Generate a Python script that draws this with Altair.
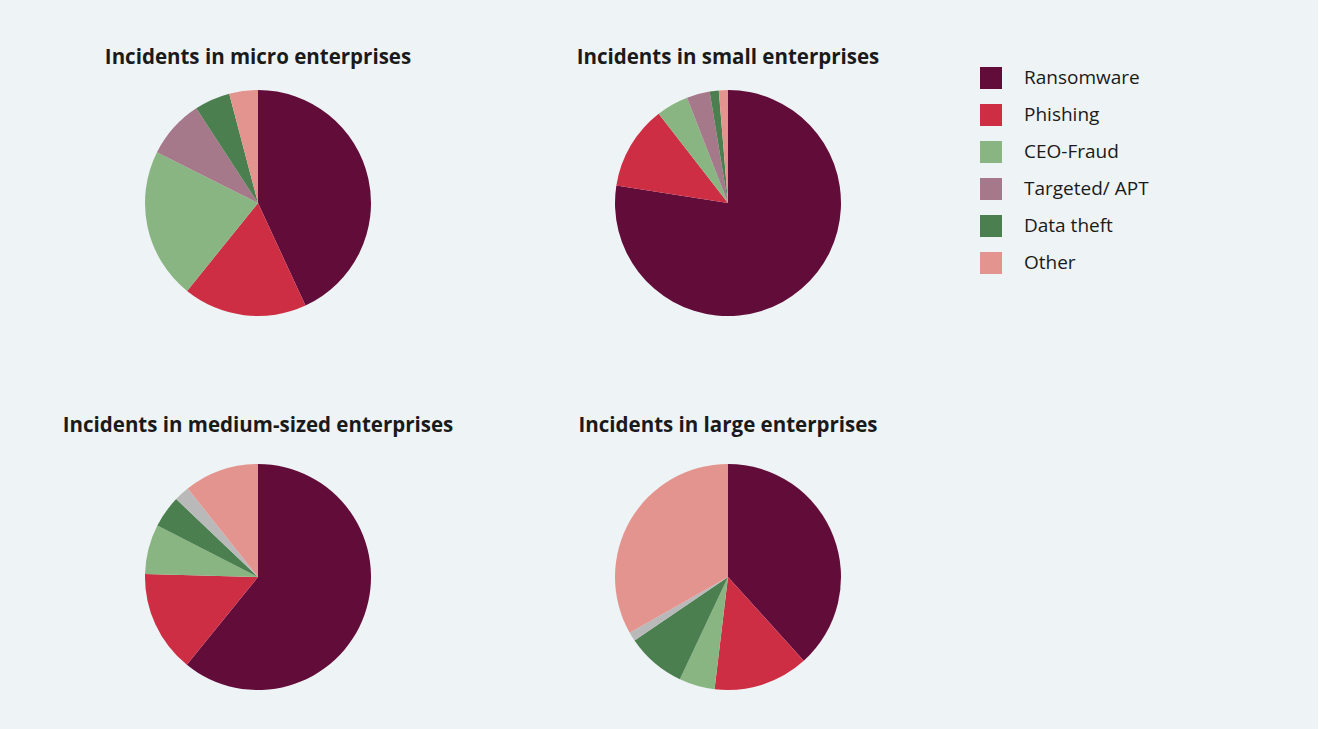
import altair as alt
import pandas as pd

categories = ["Ransomware", "Phishing", "CEO-Fraud", "Targeted/ APT", "Data theft", "Unassigned", "Other"]
legend_categories = ["Ransomware", "Phishing", "CEO-Fraud", "Targeted/ APT", "Data theft", "Other"]
colors = ["#620c3a", "#cd2e44", "#88b582", "#a5788a", "#4b7f4f", "#b9b9b9", "#e4948f"]

titles = [
    "Incidents in micro enterprises",
    "Incidents in small enterprises",
    "Incidents in medium-sized enterprises",
    "Incidents in large enterprises",
]
micro = [43.1, 17.7, 21.6, 8.4, 5.1, 0.0, 4.1]
small = [77.4, 12.0, 4.6, 3.3, 1.3, 0.0, 1.3]
medium = [60.9, 14.6, 7.1, 0.0, 4.6, 2.2, 10.7]
large = [38.3, 13.6, 5.1, 0.0, 8.5, 1.3, 33.2]

rows = []
for t, vals in zip(titles, [micro, small, medium, large]):
    for i, (c, v) in enumerate(zip(categories, vals)):
        if v > 0:
            rows.append({"panel": t, "category": c, "share": v, "order": i})
df = pd.DataFrame(rows)

FONT = "Open Sans"


def pie(t, title_offset):
    return (
        alt.Chart(df)
        .transform_filter(alt.FieldEqualPredicate(field="panel", equal=t))
        .mark_arc(radius=113, strokeWidth=0)
        .encode(
            theta=alt.Theta("share:Q", stack=True),
            color=alt.Color(
                "category:N",
                scale=alt.Scale(domain=categories, range=colors),
                legend=alt.Legend(
                    values=legend_categories,
                    title=None,
                    orient="none",
                    legendX=932,
                    legendY=-16,
                    symbolType="square",
                    symbolSize=484,
                    symbolStrokeWidth=0,
                    symbolOpacity=1,
                    labelFontSize=19,
                    labelFont=FONT,
                    labelColor="#1a1a1a",
                    labelOffset=22,
                    rowPadding=15,
                    labelLimit=300,
                ),
            ),
            order=alt.Order("order:Q"),
        )
        .properties(
            width=420,
            height=240,
            title=alt.TitleParams(
                t, fontSize=20.5, font=FONT, fontWeight="bold", color="#1a1a1a",
                anchor="middle", offset=title_offset,
            ),
        )
    )


top = alt.hconcat(pie(titles[0], 15), pie(titles[1], 15), spacing=50)
bottom = alt.hconcat(pie(titles[2], 21), pie(titles[3], 21), spacing=50)
chart = (
    alt.vconcat(top, bottom, spacing=92)
    .resolve_scale(color="shared")
    .configure(background="#eef3f5", padding={"left": 48, "top": 47, "right": 169, "bottom": 38})
    .configure_view(strokeWidth=0)
)
chart.save("out.html", embed_options={"renderer": "svg", "actions": False})
